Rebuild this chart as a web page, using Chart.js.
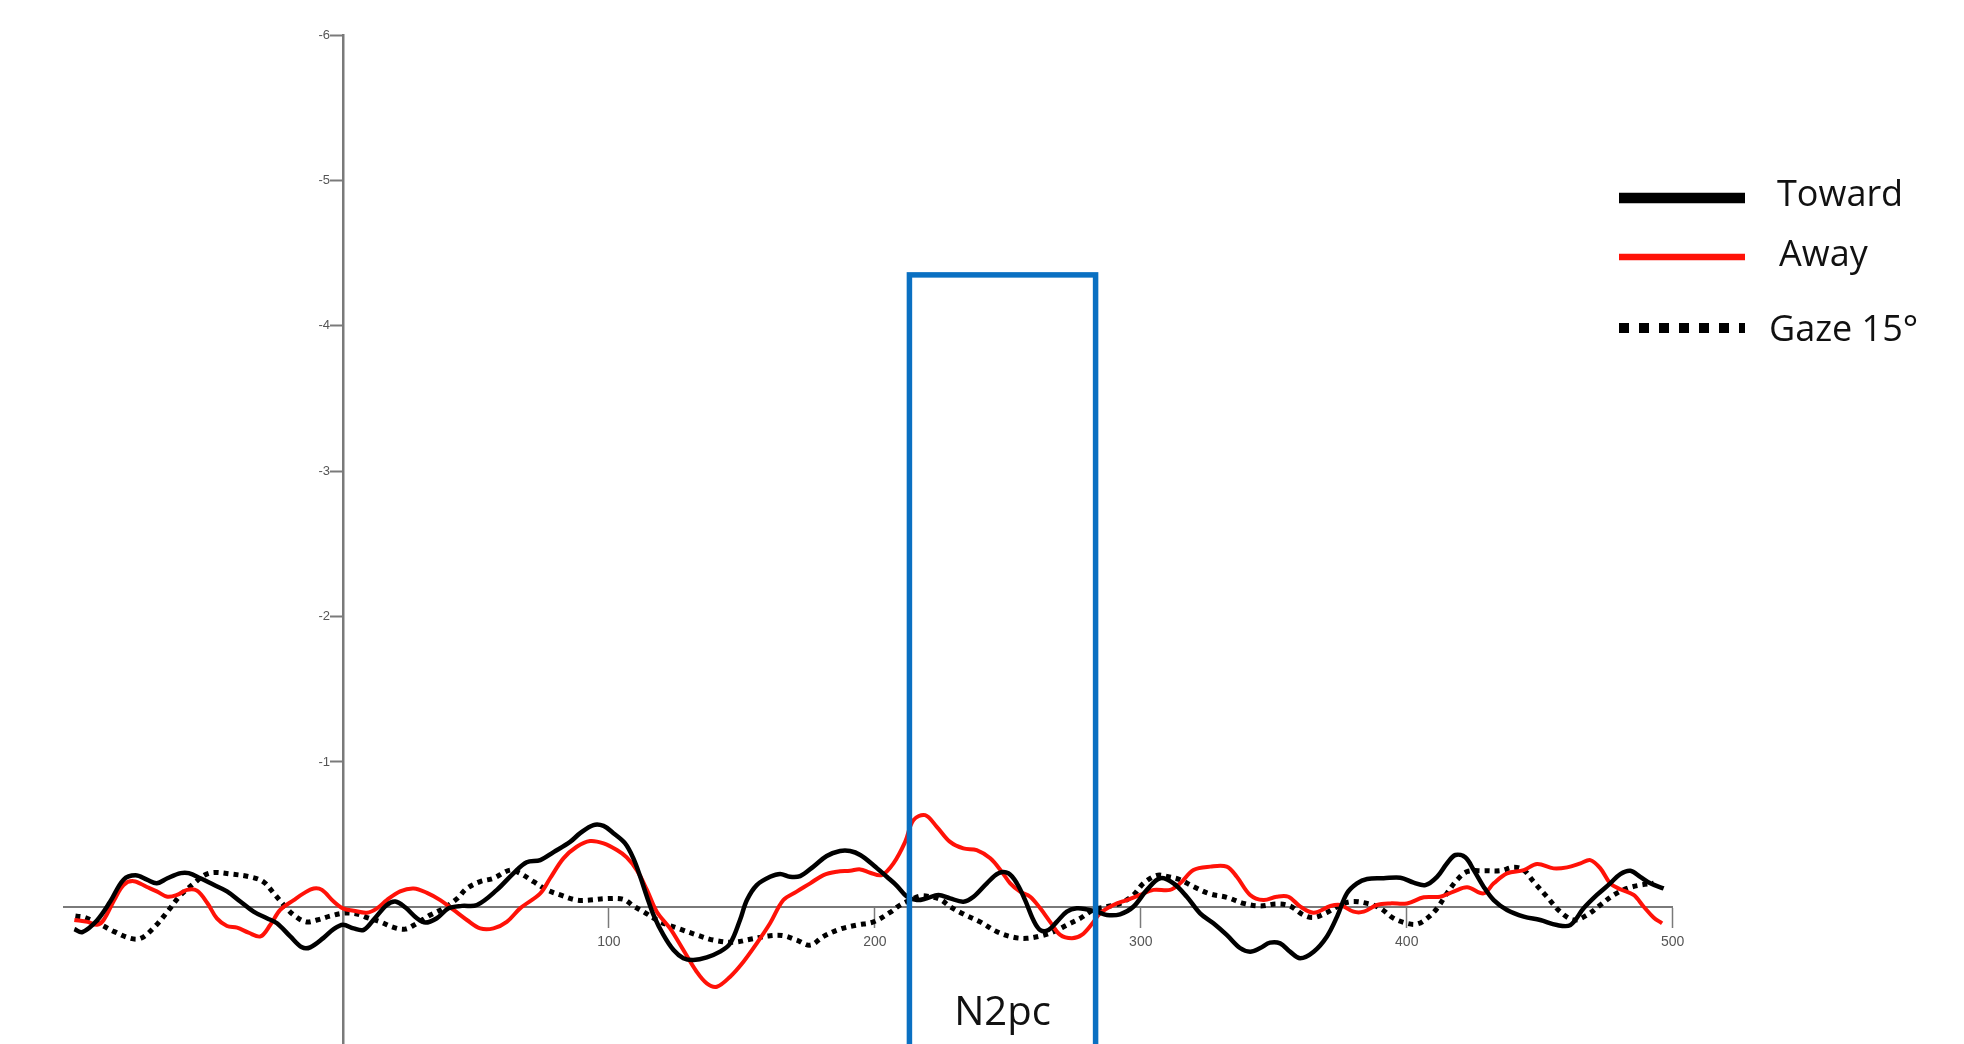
<!DOCTYPE html>
<html>
<head>
<meta charset="utf-8">
<script src="https://cdn.jsdelivr.net/npm/chart.js@4.4.1/dist/chart.umd.min.js"></script>
<style>
  html, body { margin: 0; padding: 0; background: #fff; overflow: hidden; }
  #wrap { position: relative; width: 1964px; height: 1044px; }
</style>
</head>
<body>
<div id="wrap"><canvas id="erp"></canvas></div>
<script>
// Contralateral-minus-ipsilateral difference waves (µV), time in ms.
const SERIES_NAMES = ['Toward', 'Away', 'Gaze 15°'];
const X_TICKS = [100, 200, 300, 400, 500];
const Y_TICKS = [-6, -5, -4, -3, -2, -1];

const TOWARD_MS = [-101,-98,-92.5,-87.5,-82.5,-78,-73.7,-70,-66,-61,-58,-53.6,-48.6,-43.6,-38.6,-33.6,-28.6,-24.8,-19.8,-15.4,-12.3,-7.3,-3.5,0,4,7.8,12,16.5,19.7,23.4,27.8,31,35.3,39.7,44.7,50.4,57.9,64.1,69.1,74.2,79.2,85.4,89.2,94.2,98,101.7,106.1,109.2,111.8,114.3,116.8,120.5,124.3,128,131.8,136.8,141.8,145.6,149.3,151.9,155.6,160.6,164.4,168.1,171.9,176.9,181.9,186.9,190.7,194.5,199.5,204.5,208.2,212,215.8,219.5,223.9,228.3,233.3,237.1,242.1,246.5,250.2,253.4,256.5,259.6,262.2,265.3,268.4,272.2,275.9,279.7,283.5,287.2,292.2,297.2,302.3,307.3,312.3,317.3,322.3,327.3,332.3,337.3,341.1,344.9,348.6,352.4,356.1,359.9,365,370,373.8,377.5,381.3,385.1,391.3,397.6,402.6,407,411.4,415.1,418.3,422,425.2,428.9,432.7,437.7,444,450.2,456.5,461.5,466.5,471.5,476.5,480.3,484.1,487.8,491.6,496.6];
const TOWARD_UV = [0.15,0.17,0.09,-0.04,-0.19,-0.22,-0.19,-0.165,-0.2,-0.235,-0.235,-0.2,-0.155,-0.11,-0.04,0.03,0.075,0.11,0.2,0.275,0.275,0.21,0.15,0.12,0.145,0.155,0.075,-0.016,-0.04,0,0.075,0.105,0.075,0.007,-0.01,-0.016,-0.12,-0.234,-0.31,-0.325,-0.38,-0.45,-0.51,-0.566,-0.56,-0.51,-0.44,-0.337,-0.21,-0.073,0.053,0.19,0.294,0.35,0.362,0.344,0.305,0.248,0.087,-0.05,-0.153,-0.21,-0.23,-0.21,-0.215,-0.28,-0.353,-0.387,-0.387,-0.36,-0.29,-0.21,-0.15,-0.075,-0.05,-0.062,-0.085,-0.062,-0.039,-0.073,-0.165,-0.234,-0.234,-0.165,-0.05,0.087,0.156,0.156,0.1,0.03,0.007,0.014,0.03,0.053,0.048,-0.004,-0.12,-0.2,-0.165,-0.073,0.041,0.11,0.19,0.28,0.305,0.28,0.243,0.248,0.305,0.35,0.305,0.2,0.064,-0.096,-0.165,-0.195,-0.2,-0.204,-0.17,-0.153,-0.21,-0.302,-0.36,-0.344,-0.256,-0.142,-0.05,0.018,0.064,0.087,0.122,0.122,0.007,-0.085,-0.165,-0.229,-0.252,-0.21,-0.165,-0.13];

const AWAY_MS = [-101,-96,-92.5,-90,-86,-82.5,-78.7,-73.7,-70,-66,-62.4,-58.6,-54.9,-51,-47.4,-43.6,-39.8,-35.5,-31,-27.3,-23.6,-18.5,-14.8,-11,-7.9,-3.5,0,4,9,12.8,16.5,21.5,26.6,31.6,36.6,41.6,46.6,51.6,56.6,61.6,66.6,74.2,77.9,82.9,87.9,92.9,98,103,106.7,110.5,114.3,118,123,128,133,136.8,140.6,145.6,150.6,155.6,160.6,165.6,170.6,175.7,180.7,185.7,190.7,194.5,198.2,202.6,207,211.4,214.5,218.9,223.3,228.3,233.3,238.3,243.4,247.7,250.9,254.6,258.4,262.2,265.9,269.7,274.1,277.8,281.6,284.7,289.7,294.7,299.7,304.8,311,314.8,319.8,326.1,332.3,336.1,341.1,346.1,351.1,355.5,360,365,371.3,375,380,383.8,388.8,393.8,400.1,406.4,412.6,417.6,422.7,428.9,432.7,437.7,444,449,455.2,460.3,465.3,469,472.8,476.5,480.3,485.3,489.1,492.8,496];
const AWAY_UV = [0.087,0.1,0.12,0.087,-0.05,-0.154,-0.18,-0.14,-0.11,-0.073,-0.085,-0.12,-0.115,-0.03,0.076,0.128,0.14,0.174,0.2,0.12,0.018,-0.05,-0.096,-0.13,-0.12,-0.04,0.007,0.023,0.037,0.007,-0.05,-0.11,-0.13,-0.1,-0.05,0.018,0.087,0.145,0.145,0.1,0.007,-0.096,-0.2,-0.337,-0.417,-0.456,-0.44,-0.394,-0.344,-0.256,-0.12,0.03,0.145,0.294,0.443,0.523,0.546,0.477,0.374,0.248,0.11,-0.05,-0.108,-0.165,-0.222,-0.245,-0.252,-0.261,-0.238,-0.222,-0.302,-0.45,-0.6,-0.634,-0.554,-0.45,-0.405,-0.394,-0.337,-0.245,-0.165,-0.108,-0.073,0.007,0.1,0.19,0.213,0.19,0.115,0.041,-0.016,-0.05,-0.085,-0.12,-0.12,-0.165,-0.257,-0.28,-0.28,-0.21,-0.085,-0.05,-0.073,-0.073,-0.005,0.037,-0.009,-0.016,0.03,0.03,-0.016,-0.027,-0.027,-0.069,-0.073,-0.108,-0.138,-0.096,-0.165,-0.234,-0.256,-0.298,-0.268,-0.275,-0.302,-0.325,-0.268,-0.165,-0.124,-0.085,-0.004,0.07,0.11];

const GAZE_MS = [-100.6,-97,-91,-86,-80,-76,-71,-66,-61,-56,-52,-48.6,-42.4,-35,-30,-26,-21.7,-18.5,-14,-9.8,-4.8,0.25,5.3,9,14,19,23.4,27.8,32.8,37.8,42.9,46.6,51.6,56.6,62.9,66.6,71.7,76.7,81.7,87.9,92.9,99.2,105.5,109.2,113,119.3,126.8,133,139.3,146.8,153.1,160.6,165.6,170.6,175.7,180.7,186.9,193.2,199.5,205.7,209.5,213.3,217,220.8,224.6,228.3,233.3,239.6,245.9,252.1,257.1,262.2,267.2,272.2,277.2,282.2,287.2,292.2,297.2,301,306,309.8,314.8,319.8,326.1,332.3,338.6,344.9,351.1,356.1,361.2,365,370,373.8,378.8,385.1,390.1,395.1,400.1,403.9,407.6,411.4,415.1,418.9,422.7,428.9,435.2,440.2,444,447.7,452.7,457.7,462.8,467.8,472.8,477.8,482.8,487.8,492.8];
const GAZE_UV = [0.06,0.07,0.12,0.167,0.213,0.213,0.138,0.03,-0.085,-0.165,-0.222,-0.24,-0.23,-0.21,-0.177,-0.096,-0.005,0.053,0.1,0.087,0.06,0.04,0.046,0.07,0.1,0.138,0.15,0.11,0.053,0.007,-0.06,-0.13,-0.177,-0.2,-0.256,-0.234,-0.176,-0.12,-0.085,-0.05,-0.05,-0.06,-0.055,-0.009,0.03,0.1,0.15,0.19,0.225,0.24,0.22,0.195,0.195,0.225,0.26,0.2,0.15,0.122,0.1,0.035,-0.016,-0.05,-0.078,-0.073,-0.055,-0.005,0.046,0.1,0.168,0.206,0.213,0.197,0.168,0.122,0.076,0.018,-0.004,-0.027,-0.085,-0.165,-0.22,-0.213,-0.19,-0.142,-0.092,-0.069,-0.027,-0.009,-0.023,-0.009,0.053,0.07,0.035,-0.004,-0.039,-0.027,0.007,0.076,0.11,0.115,0.076,0.007,-0.096,-0.188,-0.245,-0.252,-0.252,-0.275,-0.256,-0.176,-0.073,0.03,0.087,0.053,-0.016,-0.085,-0.13,-0.153,-0.165];

// Analysis window highlighted on the plot
const N2PC_MS = [213, 283];
const N2PC_TOP_UV = -4.35;
const N2PC_LABEL = 'N2pc';
const N2PC_LABEL_UV = 0.73;

const toPoints = (ms, uv) => ms.map((t, i) => ({ x: t, y: uv[i] }));

const AXIS_GREY = '#7a7a7a';
const LABEL_GREY = '#555555';
const BOX_BLUE = '#0a70c2';
const RED = '#ff1208';

// Blue window rectangle and its label, positioned through the scales
const windowBox = {
  id: 'windowBox',
  afterDatasetsDraw(chart) {
    const { ctx, scales: { x, y } } = chart;
    const x1 = x.getPixelForValue(N2PC_MS[0]);
    const x2 = x.getPixelForValue(N2PC_MS[1]);
    const yTop = y.getPixelForValue(N2PC_TOP_UV);
    const yBot = chart.height + 20;
    ctx.save();
    ctx.strokeStyle = BOX_BLUE;
    ctx.lineWidth = 5.5;
    ctx.strokeRect(x1, yTop, x2 - x1, yBot - yTop);
    ctx.fillStyle = '#111';
    ctx.font = '40px "Open Sans"';
    ctx.textAlign = 'center';
    ctx.textBaseline = 'middle';
    ctx.fillText(N2PC_LABEL, (x1 + x2) / 2, y.getPixelForValue(N2PC_LABEL_UV));
    ctx.restore();
  }
};

// Legend with thick sample strokes, right of the plot
const sideLegend = {
  id: 'sideLegend',
  afterDraw(chart) {
    const { ctx } = chart;
    const entries = [
      { color: '#000', width: 10.5, dash: [], lineY: 198, textX: 1777, textY: 196 },
      { color: RED, width: 6.5, dash: [], lineY: 257, textX: 1779, textY: 256 },
      { color: '#000', width: 10, dash: [10, 10], lineY: 328, textX: 1769, textY: 331 }
    ];
    ctx.save();
    entries.forEach((e, i) => {
      ctx.beginPath();
      ctx.setLineDash(e.dash);
      ctx.lineCap = 'butt';
      ctx.strokeStyle = e.color;
      ctx.lineWidth = e.width;
      ctx.moveTo(1619, e.lineY);
      ctx.lineTo(1745, e.lineY);
      ctx.stroke();
      ctx.setLineDash([]);
      ctx.fillStyle = '#111';
      ctx.font = '36px "Open Sans"';
      ctx.textAlign = 'left';
      ctx.textBaseline = 'middle';
      ctx.fillText(SERIES_NAMES[i], e.textX, e.textY);
    });
    ctx.restore();
  }
};

new Chart(document.getElementById('erp'), {
  type: 'line',
  data: {
    datasets: [
      { label: SERIES_NAMES[0], data: toPoints(TOWARD_MS, TOWARD_UV), borderColor: '#000', borderWidth: 4.5, order: 0 },
      { label: SERIES_NAMES[1], data: toPoints(AWAY_MS, AWAY_UV), borderColor: RED, borderWidth: 4, order: 1 },
      { label: SERIES_NAMES[2], data: toPoints(GAZE_MS, GAZE_UV), borderColor: '#000', borderWidth: 5, borderDash: [5, 5], borderCapStyle: 'butt', order: 2 }
    ]
  },
  options: {
    responsive: true,
    maintainAspectRatio: false,
    animation: false,
    events: [],
    elements: { point: { radius: 0 }, line: { tension: 0.35, fill: false } },
    layout: { padding: { left: 63.7, right: 291.3, top: 35, bottom: 0 } },
    plugins: { legend: { display: false }, tooltip: { enabled: false } },
    scales: {
      x: {
        type: 'linear',
        min: -105,
        max: 500,
        position: { y: 0 },
        afterBuildTicks: (s) => { s.ticks = X_TICKS.map(v => ({ value: v })); },
        afterFit: (s) => { s.paddingLeft = 0; s.paddingRight = 0; },
        grid: { drawOnChartArea: false, drawTicks: true, tickLength: 20, tickColor: AXIS_GREY, tickWidth: 1.5 },
        border: { display: true, color: AXIS_GREY, width: 2 },
        ticks: { color: LABEL_GREY, font: { family: '"Liberation Sans"', size: 14 }, padding: 6, maxRotation: 0, autoSkip: false }
      },
      y: {
        type: 'linear',
        reverse: true,
        min: -6,
        max: 0.94,
        position: { x: 0 },
        afterBuildTicks: (s) => { s.ticks = Y_TICKS.map(v => ({ value: v })); },
        afterFit: (s) => { s.paddingTop = 0; s.paddingBottom = 0; },
        grid: { drawOnChartArea: false, drawTicks: true, tickLength: 12, tickColor: AXIS_GREY, tickWidth: 2 },
        border: { display: true, color: AXIS_GREY, width: 2.5 },
        ticks: {
          color: LABEL_GREY,
          font: { family: '"Liberation Sans"', size: 13 },
          autoSkip: false,
          // labels sit left of the tick marks
          callback: (v) => v + '\u2003'
        }
      }
    }
  },
  plugins: [windowBox, sideLegend]
});
</script>
</body>
</html>
